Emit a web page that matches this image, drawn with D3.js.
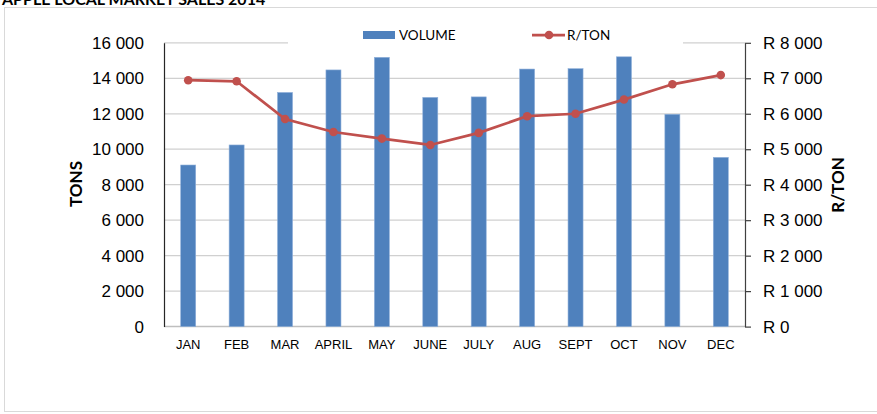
<!DOCTYPE html>
<html>
<head>
<meta charset="utf-8">
<script src="https://cdn.jsdelivr.net/npm/d3@7"></script>
<style>
  body { margin: 0; background: #fff; }
  svg { display: block; font-family: Lato, 'Open Sans', sans-serif; }
  .grid line { stroke: #d0d0d0; stroke-width: 1.25; }
  .axis text { fill: #000; }
</style>
</head>
<body>
<div class="chart"></div>
<script>
var months = ['JAN', 'FEB', 'MAR', 'APRIL', 'MAY', 'JUNE', 'JULY', 'AUG', 'SEPT', 'OCT', 'NOV', 'DEC'];
var volume = [9110, 10240, 13200, 14470, 15180, 12920, 12950, 14520, 14540, 15210, 11970, 9540];
var randPerTon = [6945, 6915, 5850, 5485, 5300, 5120, 5460, 5930, 6000, 6400, 6830, 7090];
var tonTicks = [0, 2000, 4000, 6000, 8000, 10000, 12000, 14000, 16000];
var randTicks = [0, 1000, 2000, 3000, 4000, 5000, 6000, 7000, 8000];

function fmt(v) {
  return d3.format(',')(v).replace(/,/g, ' ');
}

function init() {
  var width = 877,
      height = 414,
      left = 164,
      right = 745,
      top = 42.8,
      bottom = 326.6,
      blue = '#4f81bd',
      red = '#c0504d';

  var svg = d3.select('.chart')
    .append('svg')
      .attr('width', width)
      .attr('height', height);

  // outer chart border
  svg.append('rect')
      .attr('x', 4.5)
      .attr('y', 7.5)
      .attr('width', width)
      .attr('height', 404)
      .attr('fill', '#fff')
      .attr('stroke', '#d9d9d9');

  svg.append('text')
      .attr('x', 2)
      .attr('y', 4.5)
      .attr('font-weight', 'bold')
      .attr('font-size', 16)
      .text('APPLE LOCAL MARKET SALES 2014');

  var x = d3.scaleBand().domain(months).range([left, right]);
  var yL = d3.scaleLinear().domain([0, 16000]).range([bottom, top]);
  var yR = d3.scaleLinear().domain([0, 8000]).range([bottom, top]);
  var barW = x.bandwidth() * 0.31;

  svg.append('g')
      .attr('class', 'grid')
    .selectAll('line')
    .data(tonTicks.slice(1))
    .enter().append('line')
      .attr('x1', left)
      .attr('x2', right)
      .attr('y1', function(d) { return yL(d); })
      .attr('y2', function(d) { return yL(d); });

  // bottom axis line
  svg.append('line')
      .attr('x1', left).attr('x2', right)
      .attr('y1', bottom).attr('y2', bottom)
      .attr('stroke', '#bfbfbf')
      .attr('stroke-width', 1.5);

  svg.append('g')
    .selectAll('rect')
    .data(volume)
    .enter().append('rect')
      .attr('x', function(d, i) { return x(months[i]) + x.bandwidth() / 2 - barW / 2; })
      .attr('y', function(d) { return yL(d); })
      .attr('width', barW)
      .attr('height', function(d) { return bottom - yL(d); })
      .attr('fill', blue)
      .attr('stroke', '#8fb0da')
      .attr('stroke-width', 0.6);

  var line = d3.line()
      .x(function(d, i) { return x(months[i]) + x.bandwidth() / 2; })
      .y(function(d) { return yR(d); });

  svg.append('path')
      .datum(randPerTon)
      .attr('d', line)
      .attr('fill', 'none')
      .attr('stroke', red)
      .attr('stroke-width', 2.75);

  svg.append('g')
    .selectAll('circle')
    .data(randPerTon)
    .enter().append('circle')
      .attr('cx', function(d, i) { return x(months[i]) + x.bandwidth() / 2; })
      .attr('cy', function(d) { return yR(d); })
      .attr('r', 4.3)
      .attr('fill', red);

  // left axis
  var axisL = svg.append('g')
      .attr('class', 'axis')
      .attr('transform', 'translate(' + left + ',0)')
      .call(d3.axisLeft(yL).tickValues(tonTicks).tickSize(0).tickPadding(20).tickFormat(fmt));
  axisL.select('.domain').attr('stroke', '#262626').attr('stroke-width', 1.2);
  axisL.selectAll('text').attr('font-size', 17).attr('font-family', null);

  // right axis
  var axisR = svg.append('g')
      .attr('class', 'axis')
      .attr('transform', 'translate(' + right + ',0)')
      .call(d3.axisRight(yR).tickValues(randTicks).tickSize(6).tickSizeOuter(0).tickPadding(12)
        .tickFormat(function(d) { return 'R ' + fmt(d); }));
  axisR.select('.domain').attr('stroke', '#404040').attr('stroke-width', 1.2);
  axisR.selectAll('.tick line').attr('stroke', '#404040').attr('stroke-width', 1.2);
  axisR.selectAll('text').attr('font-size', 17).attr('font-family', null);

  // category labels
  var axisX = svg.append('g')
      .attr('class', 'axis')
      .attr('transform', 'translate(0,' + bottom + ')')
      .call(d3.axisBottom(x).tickSize(0).tickPadding(13));
  axisX.select('.domain').remove();
  axisX.selectAll('text').attr('font-size', 13).attr('font-family', null);

  svg.append('text')
      .attr('transform', 'translate(82,184) rotate(-90)')
      .attr('text-anchor', 'middle')
      .attr('font-weight', 'bold')
      .attr('font-size', 17)
      .text('TONS');

  svg.append('text')
      .attr('transform', 'translate(844,185) rotate(-90)')
      .attr('text-anchor', 'middle')
      .attr('font-weight', 'bold')
      .attr('font-size', 17)
      .text('R/TON');

  // legend, white box over the top gridline
  var legend = svg.append('g');
  legend.append('rect')
      .attr('x', 288).attr('y', 25)
      .attr('width', 395).attr('height', 22)
      .attr('fill', '#fff');
  legend.append('rect')
      .attr('x', 363).attr('y', 31)
      .attr('width', 32).attr('height', 8)
      .attr('fill', blue);
  legend.append('text')
      .attr('x', 399).attr('y', 40)
      .attr('font-size', 13.5)
      .text('VOLUME');
  legend.append('line')
      .attr('x1', 532).attr('x2', 565)
      .attr('y1', 35).attr('y2', 35)
      .attr('stroke', red)
      .attr('stroke-width', 2.75);
  legend.append('circle')
      .attr('cx', 549).attr('cy', 35)
      .attr('r', 4.3)
      .attr('fill', red);
  legend.append('text')
      .attr('x', 567).attr('y', 40)
      .attr('font-size', 13.5)
      .text('R/TON');
}

init();
</script>
</body>
</html>
